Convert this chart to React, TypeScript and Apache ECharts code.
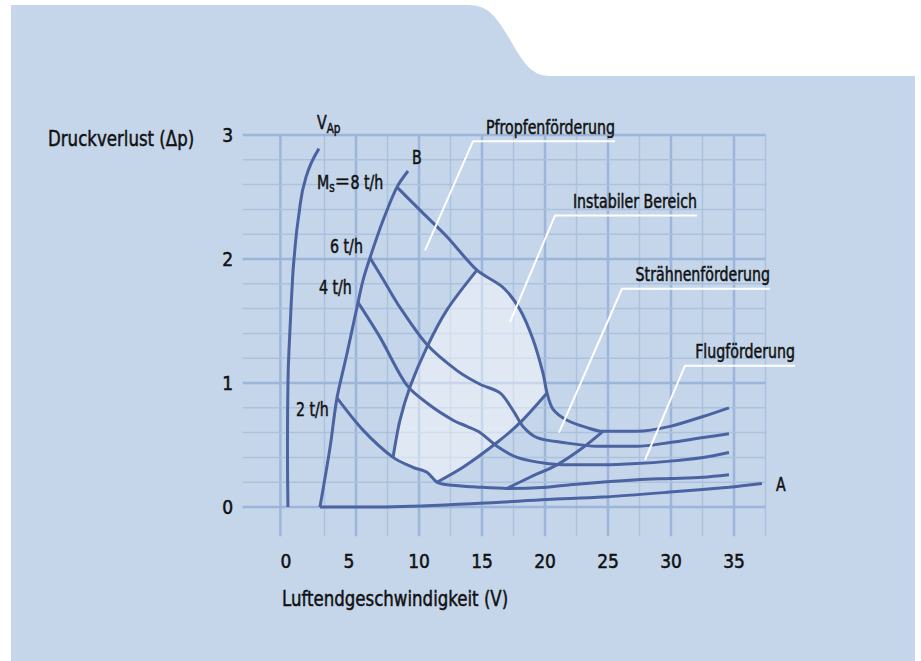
import React, { useEffect, useRef } from 'react';
import * as echarts from 'echarts';

const FONT = "'DejaVu Sans Condensed', 'Liberation Sans Narrow', Roboto, sans-serif";
const FONT_EQ = "'DejaVu Sans Condensed', 'Noto Sans CJK SC', sans-serif";
const TXT = '#111111';
const CURVE = '#4b63a1';
const PANEL = '#c5d6ea';
const SX = 0.83;

// Axis ticks
const xTickLabels = [0, 5, 10, 15, 20, 25, 30, 35];
const yTickLabels = [0, 1, 2, 3];

// Grid line positions (data units)
const gridXs = [-1, 2.5, 5, 7.5, 10, 12.5, 15, 17.5, 20, 22.5, 25, 27.5, 30, 32.5, 35, 37.5];
const gridYs = [0, 0.2, 0.4, 0.6, 0.8, 1, 1.2, 1.4, 1.6, 1.8, 2, 2.2, 2.4, 2.6, 2.8, 3];

// Curves [V, Δp]
const curveVAp = [[-0.4, 0], [-0.44, 0.48], [-0.4, 1.0], [-0.24, 1.43], [-0.04, 1.83], [0.08, 2.0], [0.44, 2.34], [1.03, 2.66], [2.06, 2.89]];
const curveB = [[2.14, 0], [2.94, 0.48], [3.49, 0.88], [4.29, 1.24], [5.16, 1.65], [5.56, 1.83], [6.11, 2.01], [7.14, 2.31], [8.25, 2.58], [9.13, 2.71]];
const curveM8 = [[8.25, 2.58], [10.32, 2.37], [12.22, 2.18], [14.6, 1.91], [16.67, 1.77], [18.02, 1.59], [19.05, 1.35], [19.84, 1.08], [20.16, 0.92], [20.63, 0.79], [21.75, 0.7], [23.33, 0.64], [24.6, 0.61], [27.3, 0.61], [29.92, 0.65], [32.54, 0.73], [34.6, 0.8]];
const curveM6 = [[6.11, 2.01], [7.3, 1.81], [8.49, 1.61], [10.63, 1.31], [13.02, 1.1], [14.84, 0.99], [16.43, 0.92], [17.46, 0.78], [18.25, 0.65], [19.37, 0.56], [21.43, 0.52], [24.13, 0.49], [27.3, 0.49], [29.92, 0.52], [32.54, 0.56], [34.6, 0.59]];
const curveM4 = [[5.16, 1.65], [6.9, 1.37], [9.05, 0.98], [10.87, 0.82], [12.7, 0.7], [13.81, 0.65], [14.84, 0.6], [16.19, 0.49], [17.78, 0.4], [20.16, 0.35], [22.0, 0.34], [24.6, 0.34], [27.3, 0.35], [29.92, 0.37], [32.54, 0.4], [34.6, 0.44]];
const curveM2 = [[3.49, 0.88], [5.56, 0.62], [7.94, 0.4], [9.52, 0.32], [10.63, 0.28], [11.43, 0.2], [12.22, 0.18], [14.84, 0.16], [16.98, 0.15], [20.16, 0.16], [22.0, 0.18], [27.3, 0.22], [29.92, 0.23], [32.54, 0.24], [34.6, 0.26]];
const curveA = [[2.14, 0], [6.9, 0.0], [14.84, 0.03], [20.16, 0.06], [24.6, 0.08], [29.92, 0.12], [34.6, 0.16], [37.22, 0.19]];
const lineL1 = [[7.94, 0.4], [8.49, 0.7], [9.29, 0.97], [10.63, 1.29], [12.22, 1.59], [14.6, 1.91]];
const lineL2 = [[11.43, 0.2], [13.49, 0.32], [16.19, 0.52], [18.02, 0.68], [20.16, 0.92]];
const lineL3 = [[16.98, 0.15], [18.81, 0.24], [20.95, 0.34], [23.02, 0.48], [24.6, 0.61]];

// Leader lines for region names
const leaderPfropfen = [[10.48, 2.07], [14.29, 2.95], [25.56, 2.95]];
const leaderInstabil = [[17.22, 1.49], [20.79, 2.35], [32.06, 2.35]];
const leaderStraehnen = [[21.11, 0.6], [26.11, 1.76], [37.86, 1.76]];
const leaderFlug = [[27.94, 0.38], [31.11, 1.14], [39.84, 1.14]];
const regionNames = ['Pfropfenförderung', 'Instabiler Bereich', 'Strähnenförderung', 'Flugförderung'];

// Curve labels
const curveLabelTexts = ['{v|V}{sub|Ap}', '{v|B}', '{v|M}{sub|s}{eq|＝}{v|8 t/h}', '{v|6 t/h}', '{v|4 t/h}', '{v|2 t/h}', '{v|A}'];
const curveLabelPos = [[1.9, 3.1], [9.44, 2.82], [1.9, 2.62], [2.94, 2.1], [2.06, 1.77], [0.24, 0.79], [38.33, 0.18]];

const panelPath = 'M11 5 L468 5 C488 5 496 16 509 38 C522 60 530 76 550 76 L915 76 L915 661 L11 661 Z';
let registered = false;

export default function App() {
  const ref = useRef<HTMLDivElement>(null);
  useEffect(() => {
    if (!ref.current) return;
    if (!registered) {
      echarts.graphic.registerShape('panel', echarts.graphic.extendPath(panelPath, {}));
      registered = true;
    }
    const chart = echarts.init(ref.current, undefined, { renderer: 'svg' });

    const gridLines = [
      ...gridXs.map((x) => [x, -0.235, x, 3, x % 5 === 0 || x === -1 ? 1 : 0]),
      ...gridYs.map((y) => [-4, y, 37.5, y, Number.isInteger(y) ? 1 : 0]),
    ];

    const region = [
      ...lineL1,
      ...curveM8.slice(4, 9),
      ...lineL2.slice(0, 4).reverse(),
      ...curveM2.slice(3, 5).reverse(),
    ];

    const curves = [curveVAp, curveB, curveM8, curveM6, curveM4, curveM2, curveA, lineL1, lineL2, lineL3];
    const leaders = [leaderPfropfen, leaderInstabil, leaderStraehnen, leaderFlug];

    const stroke = { stroke: TXT, lineWidth: 0.5 };
    const richText = {
      v: { fontSize: 19, fontFamily: FONT, fill: TXT, ...stroke },
      eq: { fontSize: 19, fontFamily: FONT_EQ, fill: TXT, ...stroke },
      sub: { fontSize: 14, fontFamily: FONT, fill: TXT, padding: [10, 0, 0, 0], ...stroke },
    };

    const baseGraphic: any[] = [
      { type: 'panel', x: 0, y: 0, z: -100, silent: true, style: { fill: PANEL } },
      { type: 'text', x: 48, y: 138, z: 10, scaleX: 0.84, style: { text: 'Druckverlust (Δp)', fill: TXT, fontSize: 22, fontFamily: FONT, verticalAlign: 'middle', align: 'left', ...stroke } },
      { type: 'text', x: 282, y: 598, z: 10, scaleX: 0.84, style: { text: 'Luftendgeschwindigkeit (V)', fill: TXT, fontSize: 22, fontFamily: FONT, verticalAlign: 'middle', align: 'left', ...stroke } },
    ];

    const tickStyle = { fontSize: 19, fontFamily: FONT, color: TXT, textBorderColor: TXT, textBorderWidth: 0.5 };

    const option: any = {
      animation: false,
      grid: { left: 230, right: 61, top: 135, bottom: 30, containLabel: false, outerBoundsMode: 'none' },
      xAxis: {
        type: 'value', min: -5, max: 45, interval: 5,
        axisLine: { show: false }, axisTick: { show: false }, splitLine: { show: false },
        axisLabel: {
          margin: -70, verticalAlign: 'middle', ...tickStyle,
          formatter: (v: number) => (xTickLabels.includes(v) ? (v < 10 ? `{s|${v}}` : `{d|${v}}`) : ''),
          rich: {
            s: { ...tickStyle, padding: [0, 14, 0, 0] },
            d: { ...tickStyle },
          },
        },
      },
      yAxis: {
        type: 'value', min: -1, max: 3, interval: 1,
        axisLine: { show: false }, axisTick: { show: false }, splitLine: { show: false },
        axisLabel: {
          margin: -3, ...tickStyle,
          formatter: (v: number) => (yTickLabels.includes(v) ? String(v) : ''),
        },
      },
      graphic: baseGraphic,
      series: [
        {
          type: 'custom', z: 1, silent: true, data: gridLines,
          renderItem: (_p: any, api: any) => {
            const a = api.coord([api.value(0), api.value(1)]);
            const b = api.coord([api.value(2), api.value(3)]);
            const major = api.value(4) === 1;
            return {
              type: 'line',
              shape: { x1: a[0], y1: a[1], x2: b[0], y2: b[1] },
              style: { stroke: major ? '#9db5d9' : '#abc1de', lineWidth: major ? 2.5 : 1.5 },
            };
          },
        },
        {
          type: 'custom', z: 2, silent: true, data: [[0, 0]],
          renderItem: (_p: any, api: any) => ({
            type: 'polygon',
            shape: { points: region.map((p) => api.coord(p)) },
            style: { fill: 'rgba(255,255,255,0.45)' },
          }),
        },
        ...curves.map((c, i) => ({
          type: 'line', z: 3, silent: true, data: c, showSymbol: false, smooth: i === 0 ? 0.5 : 0.3,
          lineStyle: { color: CURVE, width: 3 },
        })),
        ...leaders.map((c) => ({
          type: 'line', z: 3, silent: true, data: c, showSymbol: false,
          lineStyle: { color: '#ffffff', width: 2 },
        })),
      ],
    };
    chart.setOption(option);

    const toPx = (p: number[]) => chart.convertToPixel({ gridIndex: 0 }, p) as number[];
    const labelGraphic: any[] = [
      ...curveLabelTexts.map((t, i) => {
        const p = toPx(curveLabelPos[i]);
        return { type: 'text', x: p[0], y: p[1], z: 10, scaleX: SX, silent: true, style: { text: t, rich: richText, fill: TXT, fontSize: 19, fontFamily: FONT, align: 'left', verticalAlign: 'middle' } };
      }),
      ...leaders.map((l, i) => {
        const p = toPx(l[l.length - 1]);
        return { type: 'text', x: p[0], y: p[1] - 14, z: 10, scaleX: SX, silent: true, style: { text: regionNames[i], fill: TXT, fontSize: 19, fontFamily: FONT, align: 'right', verticalAlign: 'middle', ...stroke } };
      }),
    ];
    chart.setOption({ graphic: [...baseGraphic, ...labelGraphic] });
    return () => chart.dispose();
  }, []);
  return <div ref={ref} style={{ position: 'absolute', left: 0, top: 0, width: 921, height: 661, background: '#ffffff' }} />;
}
